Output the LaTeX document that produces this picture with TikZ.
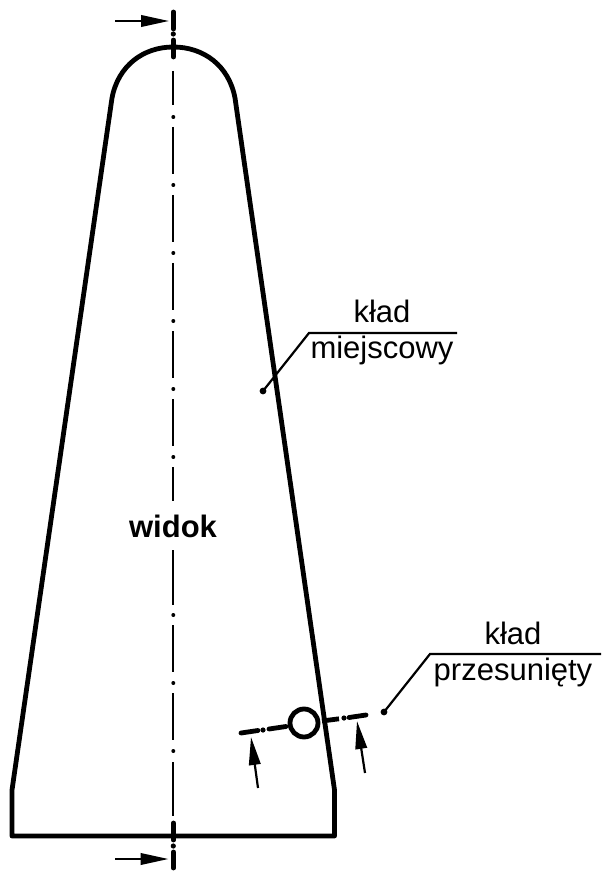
\documentclass[tikz,border=0pt]{standalone}
\usepackage{fontspec}
\setmainfont{Liberation Sans}
\usetikzlibrary{arrows.meta}
\tikzset{
    outline/.style={line width=4.8pt, line join=round, line cap=round},
    axisline/.style={line width=2.2pt},
    cutline/.style={line width=4.8pt, line cap=round},
    thinline/.style={line width=2.2pt},
    cutarrow/.style={line width=2.2pt, -{Triangle[length=28pt,width=11.5pt]}},
    lbl/.style={anchor=base, inner sep=0pt, font=\fontsize{31}{31}\selectfont},
}

\begin{document}
\begin{tikzpicture}[x=1pt,y=-1pt]
            \useasboundingbox (0,0) rectangle (608,874);

            % Outline
            \draw[outline] (12,836) -- (12,790) -- (112,98)
                .. controls (118,66) and (143,47) .. (173.3,47)
                .. controls (204,47) and (229,66) .. (235,98)
                -- (334.5,790) -- (334.5,836) -- cycle;

            % Axis, broken around the label
            \draw[axisline] (173.3,71) -- (173.3,105);
            \foreach \y in {117,185,253,321,389} {
                \fill (173.3,\y) circle (2pt);
                \draw[axisline] (173.3,\y+10) -- (173.3,\y+57);
            }
            \fill (173.3,457) circle (2pt);
            \draw[axisline] (173.3,467) -- (173.3,501);
            \draw[axisline] (173.3,550) -- (173.3,605);
            \foreach \y in {615,683} {
                \fill (173.3,\y) circle (2pt);
                \draw[axisline] (173.3,\y+10) -- (173.3,\y+57);
            }
            \fill (173.3,751) circle (2pt);
            \draw[axisline] (173.3,762) -- (173.3,816);

            % Section marks on the axis
            \draw[cutline] (173.3,12) -- (173.3,29);
            \fill (173.3,34) circle (2.6pt);
            \draw[cutline] (173.3,40) -- (173.3,57);
            \draw[cutline] (173.3,823) -- (173.3,840);
            \fill (173.3,846) circle (2.6pt);
            \draw[cutline] (173.3,852) -- (173.3,868);

            % Cross section
            \draw[line width=4.8pt] (304,723) circle (14pt);
            \draw[cutline] (241,733) -- (258,730.5);
            \fill (263,730) circle (2.6pt);
            \draw[cutline] (269,729) -- (286,726.5);
            \draw[cutline, line cap=butt] (322,721) -- (339,718.8);
            \fill (344,718) circle (2.6pt);
            \draw[cutline] (349,717.5) -- (366,715);

            % Viewing arrows
            \coordinate (topTail) at (115,21);
            \coordinate (topTip) at (169,21);
            \coordinate (botTail) at (115,859);
            \coordinate (botTip) at (168.5,859);
            \coordinate (leftTail) at (258,788);
            \coordinate (leftTip) at (251,737);
            \coordinate (rightTail) at (365,773);
            \coordinate (rightTip) at (357,721);
            \draw[cutarrow] (topTail) -- (topTip);
            \draw[cutarrow] (botTail) -- (botTip);
            \draw[cutarrow] (leftTail) -- (leftTip);
            \draw[cutarrow] (rightTail) -- (rightTip);

            % Labels
            \node[lbl, font=\fontsize{31}{31}\selectfont\bfseries] (widok) at (173,537) {widok};
            \node[lbl] (kladA) at (382,322) {kład};
            \node[lbl] (miejscowy) at (382,358) {miejscowy};
            \node[lbl] (kladB) at (513,644) {kład};
            \node[lbl] (przesuniety) at (513,680) {przesunięty};

            % Leaders
            \coordinate (dotA) at (263,391);
            \coordinate (kneeA) at (309,333);
            \coordinate (endA) at (457,333);
            \coordinate (dotB) at (384,712);
            \coordinate (kneeB) at (430,654);
            \coordinate (endB) at (601,654);
            \draw[thinline] (dotA) -- (kneeA) -- (endA);
            \draw[thinline] (dotB) -- (kneeB) -- (endB);
            \fill (dotA) circle (3.4pt);
            \fill (dotB) circle (3.4pt);
        \end{tikzpicture}
\end{document}
